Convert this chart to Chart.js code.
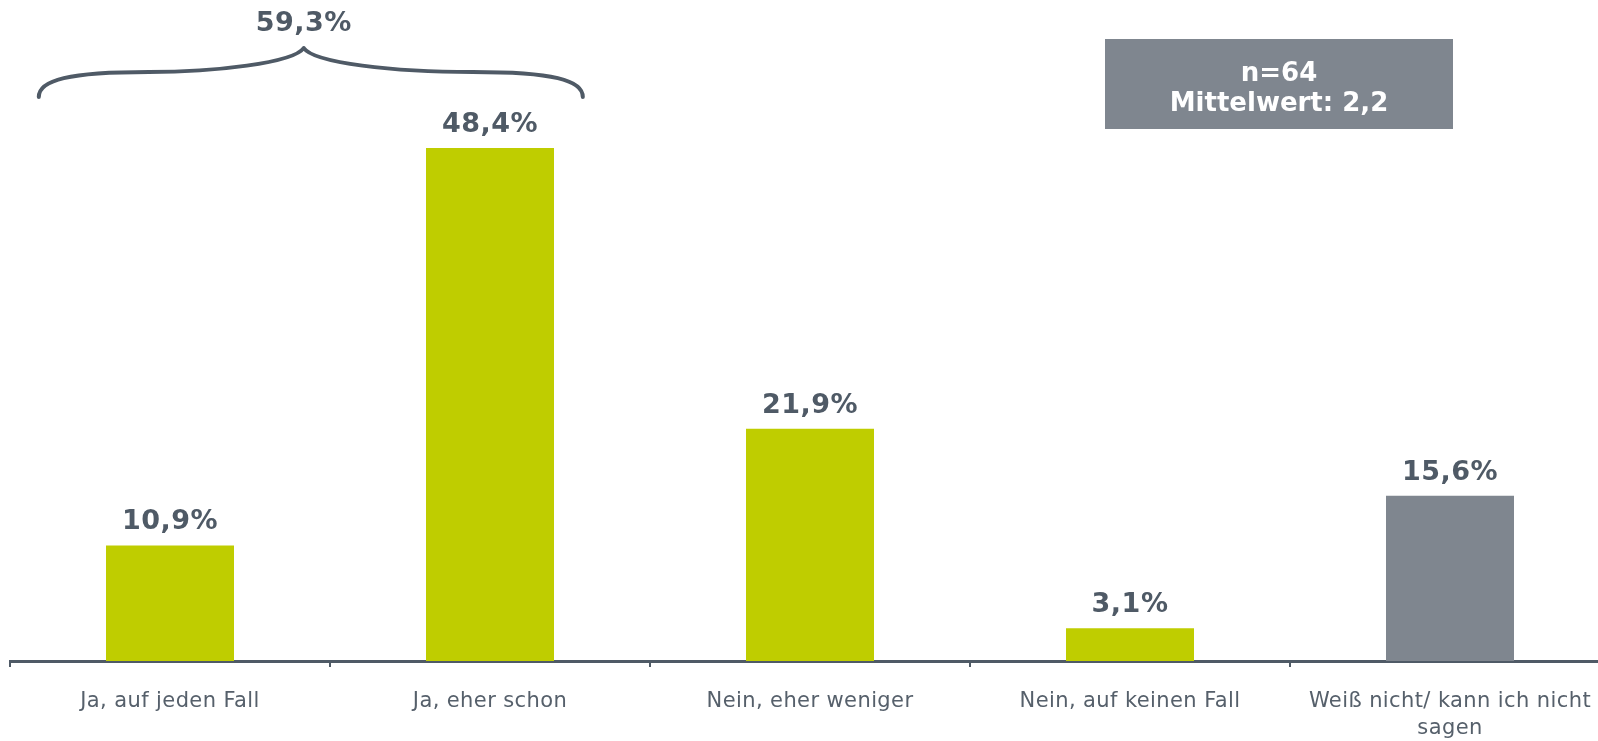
<!DOCTYPE html>
<html lang="de">
<head>
<meta charset="utf-8">
<title>Umfrage</title>
<script src="https://cdn.jsdelivr.net/npm/chart.js@4.4.1/dist/chart.umd.min.js"></script>
<style>
  html, body { margin: 0; padding: 0; background: #fff; overflow: hidden; }
  #wrap { position: relative; width: 1620px; height: 741px; }
</style>
</head>
<body>
<div id="wrap"><canvas id="chart"></canvas></div>
<script>
const categories = [
  'Ja, auf jeden Fall',
  'Ja, eher schon',
  'Nein, eher weniger',
  'Nein, auf keinen Fall',
  ['Weiß nicht/ kann ich nicht', 'sagen']
];
const values = [10.9, 48.4, 21.9, 3.1, 15.6];
const sampleSize = 64;
const meanValue = 2.2;

const GREEN = '#bfcd00';
const GREY = '#7f868f';
const SLATE = '#4f5a66';
const barColors = [GREEN, GREEN, GREEN, GREEN, GREY];

function pct(v) {
  return v.toFixed(1).replace('.', ',') + '%';
}

// axis labels are a bit spaced out in the original
const spacing = {
  id: 'spacing',
  beforeDraw(chart) { chart.ctx.letterSpacing = '0.4px'; },
  beforeDatasetsDraw(chart) { chart.ctx.letterSpacing = '0px'; }
};

const annotations = {
  id: 'annotations',
  afterDatasetsDraw(chart) {
    const ctx = chart.ctx;
    const meta = chart.getDatasetMeta(0);
    const xs = chart.scales.x;

    ctx.save();
    ctx.letterSpacing = '0.5px';
    ctx.font = 'bold 27px "DejaVu Sans"';
    ctx.fillStyle = SLATE;
    ctx.textAlign = 'center';
    ctx.textBaseline = 'alphabetic';
    meta.data.forEach((bar, i) => {
      ctx.fillText(pct(values[i]), bar.x, bar.y - 16);
    });

    // brace over the two "Ja" bars
    const cw = xs.getPixelForValue(1) - xs.getPixelForValue(0);
    const L = xs.getPixelForValue(0) - 0.41 * cw;
    const R = xs.getPixelForValue(1) + 0.29 * cw;
    const C = L + 0.487 * (R - L);
    const yEnd = 97, yFlat = 72, yPeak = 48;
    ctx.beginPath();
    ctx.moveTo(L, yEnd);
    ctx.bezierCurveTo(L, 80, L + 30, yFlat, L + 110, yFlat);
    ctx.bezierCurveTo(C - 90, yFlat, C - 10, 63, C, yPeak);
    ctx.bezierCurveTo(C + 10, 63, C + 90, yFlat, R - 110, yFlat);
    ctx.bezierCurveTo(R - 30, yFlat, R, 80, R, yEnd);
    ctx.lineWidth = 4;
    ctx.strokeStyle = SLATE;
    ctx.lineCap = 'round';
    ctx.lineJoin = 'round';
    ctx.stroke();
    ctx.fillText(pct(values[0] + values[1]), C, 31);

    // info box
    ctx.fillStyle = GREY;
    ctx.fillRect(1105, 39, 348, 90);
    ctx.letterSpacing = '0px';
    ctx.fillStyle = '#ffffff';
    ctx.font = 'bold 26px "DejaVu Sans"';
    ctx.fillText('n=' + sampleSize, 1279, 81);
    ctx.fillText('Mittelwert: ' + meanValue.toFixed(1).replace('.', ','), 1279, 111);
    ctx.restore();
  }
};

new Chart(document.getElementById('chart'), {
  type: 'bar',
  data: {
    labels: categories,
    datasets: [{
      data: values,
      backgroundColor: barColors,
      borderWidth: 0,
      barPercentage: 0.4,
      categoryPercentage: 1
    }]
  },
  options: {
    responsive: true,
    maintainAspectRatio: false,
    animation: false,
    layout: { padding: { top: 25, left: 10, right: 10, bottom: 0 } },
    plugins: {
      legend: { display: false },
      tooltip: { enabled: false }
    },
    scales: {
      x: {
        grid: {
          offset: true,
          drawOnChartArea: false,
          drawTicks: true,
          tickLength: 6,
          color: SLATE,
          lineWidth: 2
        },
        border: { display: true, color: SLATE, width: 3 },
        ticks: {
          color: '#56606b',
          font: { family: 'DejaVu Sans', size: 21, lineHeight: 1.3 },
          padding: 21,
          maxRotation: 0,
          autoSkip: false
        },
        afterFit(scale) { scale.height = 80; }
      },
      y: { display: false, min: 0, max: 60 }
    }
  },
  plugins: [spacing, annotations]
});
</script>
</body>
</html>
